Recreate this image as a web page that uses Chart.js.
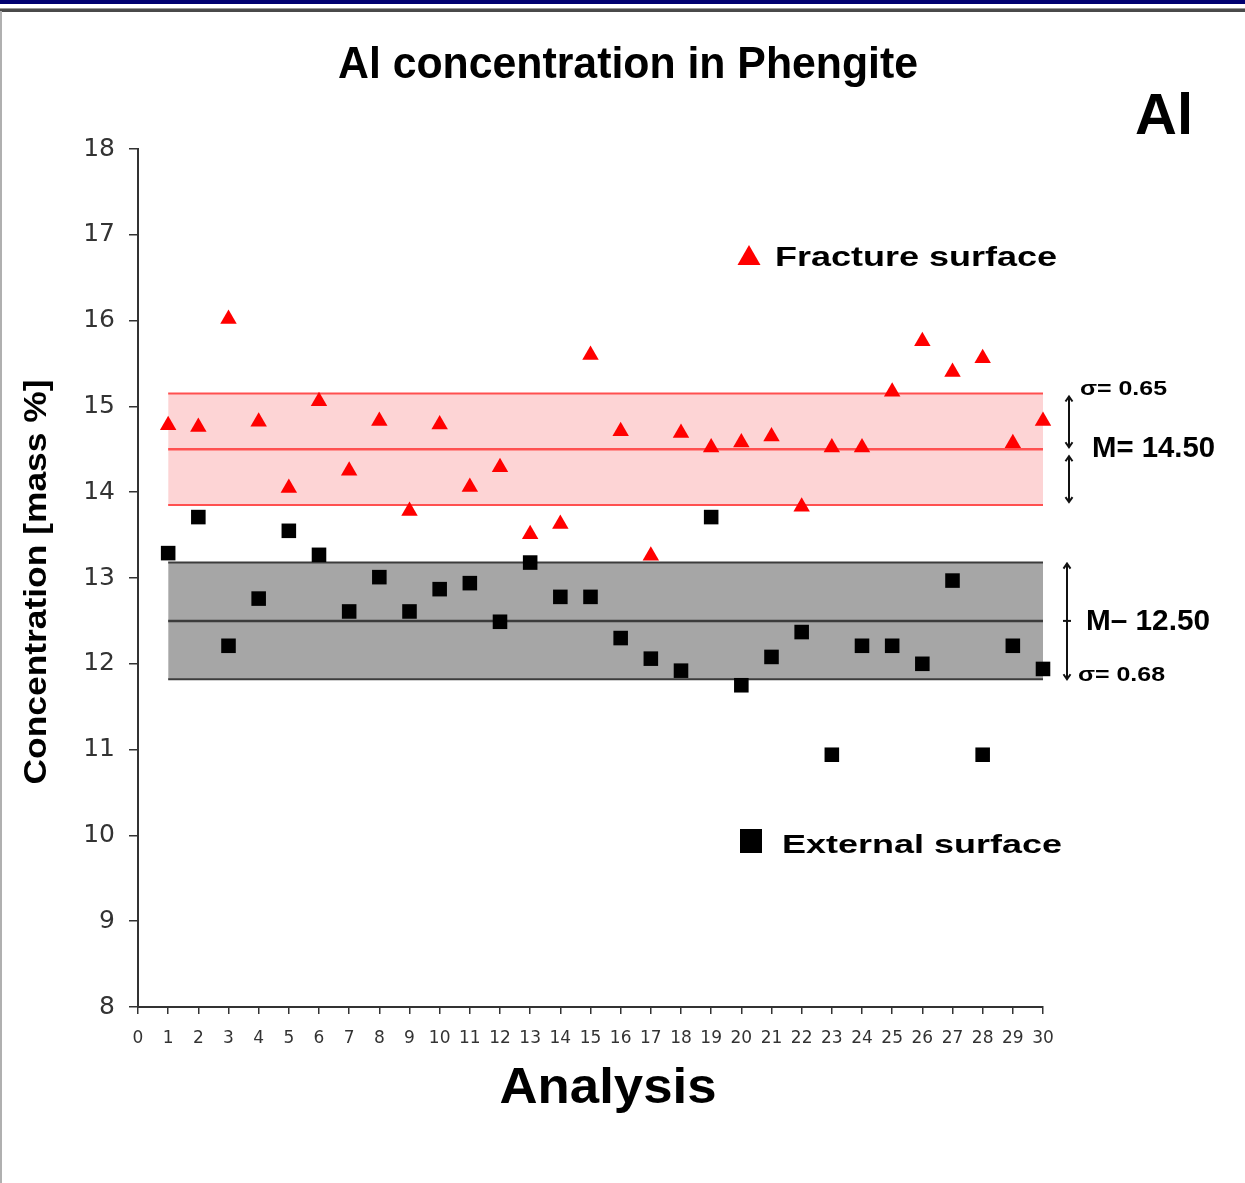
<!DOCTYPE html>
<html>
<head>
<meta charset="utf-8">
<script src="https://cdn.jsdelivr.net/npm/chart.js@4"></script>
<style>
  html, body { margin: 0; padding: 0; background: #ffffff; }
  #wrap { position: relative; width: 1245px; height: 1183px; overflow: hidden; background: #fff; }
  #topbar { position: absolute; left: 0; top: 0; width: 1245px; height: 4px; background: #000070; z-index: 2; }
  #topline { position: absolute; left: 0; top: 8px; width: 1245px; height: 3px; background: #4a4a4a; border-top: 1px solid #9a9a9a; z-index: 2; }
  #leftline { position: absolute; left: 0; top: 11px; width: 2px; height: 1172px; background: #b0b0b0; z-index: 2; }
  canvas { position: absolute; left: 0; top: 0; }
</style>
</head>
<body>
<div id="wrap">
  <div id="topbar"></div>
  <div id="topline"></div>
  <div id="leftline"></div>
  <canvas id="c" width="1245" height="1183"></canvas>
</div>
<script>
// ---- data ----
const analysis = [1,2,3,4,5,6,7,8,9,10,11,12,13,14,15,16,17,18,19,20,21,22,23,24,25,26,27,28,29,30];
const fractureSurface = [14.78,14.76,16.02,14.82,14.05,15.06,14.25,14.83,13.78,14.79,14.06,14.29,13.51,13.63,15.60,14.71,13.26,14.69,14.52,14.58,14.65,13.83,14.52,14.52,15.17,15.76,15.40,15.56,14.57,14.83];
const externalSurface = [13.29,13.71,12.21,12.76,13.55,13.27,12.61,13.01,12.61,12.87,12.94,12.49,13.18,12.78,12.78,12.30,12.06,11.92,13.71,11.75,12.08,12.37,10.94,12.21,12.21,12.00,12.97,10.94,12.21,11.94];
const fractureMean = 14.50, fractureSigma = 0.65;
const externalMean = 12.50, externalSigma = 0.68;
const xTickValues = [0,1,2,3,4,5,6,7,8,9,10,11,12,13,14,15,16,17,18,19,20,21,22,23,24,25,26,27,28,29,30];
const yTickValues = [8,9,10,11,12,13,14,15,16,17,18];
const titleText = 'Al concentration in Phengite';
const elementLabel = 'Al';
const xTitle = 'Analysis';
const yTitle = 'Concentration [mass %]';
const fractureLabel = 'Fracture surface';
const externalLabel = 'External surface';

// ---- build datasets ----
const pts = arr => arr.map((v, i) => ({x: analysis[i], y: v}));
const first = analysis[0], last = analysis[analysis.length - 1];
const hline = v => [{x: first, y: v}, {x: last, y: v}];

const RED_LINE = '#ff5050', RED_FILL = '#fdd4d5';
const GREY_LINE = '#3c3c3c', GREY_FILL = '#a6a6a6';

function band(val, color, fill, bg, w) {
  return { data: hline(val), showLine: true, pointRadius: 0, borderColor: color, borderWidth: w,
           backgroundColor: bg || 'transparent', fill: fill || false, order: 2, clip: false };
}

const datasets = [
  { label: fractureLabel, data: pts(fractureSurface), pointStyle: 'triangle', pointRadius: 9.5,
    backgroundColor: '#ff0000', borderWidth: 0, order: 0, clip: false },
  { label: externalLabel, data: pts(externalSurface), pointStyle: 'rect', pointRadius: 10.3,
    backgroundColor: '#000000', borderWidth: 0, order: 0, clip: false },
  band(fractureMean + fractureSigma, RED_LINE, '+2', RED_FILL, 2),
  band(fractureMean, RED_LINE, false, null, 2.5),
  band(fractureMean - fractureSigma, RED_LINE, false, null, 2),
  band(externalMean + externalSigma, GREY_LINE, '+2', GREY_FILL, 2),
  band(externalMean, GREY_LINE, false, null, 2.5),
  band(externalMean - externalSigma, GREY_LINE, false, null, 2),
];

function fitText(ctx, text, x, y, font, width, align, color) {
  ctx.save();
  ctx.font = font;
  ctx.fillStyle = color || '#000';
  ctx.textBaseline = 'alphabetic';
  const m = ctx.measureText(text).width;
  const sx = width / m;
  ctx.translate(x, y);
  ctx.scale(sx, 1);
  ctx.textAlign = align || 'left';
  ctx.fillText(text, 0, 0);
  ctx.restore();
}

function arrow(ctx, x, y1, y2) {
  // double-headed vertical arrow
  ctx.beginPath();
  ctx.moveTo(x, y1); ctx.lineTo(x, y2);
  const h = 5;
  ctx.moveTo(x - 3.5, y1 + h); ctx.lineTo(x, y1); ctx.lineTo(x + 3.5, y1 + h);
  ctx.moveTo(x - 3.5, y2 - h); ctx.lineTo(x, y2); ctx.lineTo(x + 3.5, y2 - h);
  ctx.stroke();
}

const decor = {
  id: 'decor',
  afterDraw(chart) {
    const ctx = chart.ctx;
    const ys = chart.scales.y;
    const F = '"Liberation Sans", Arial, sans-serif';
    // title
    fitText(ctx, titleText, 628, 78, 'bold 44px ' + F, 580, 'center');
    fitText(ctx, elementLabel, 1135, 134, 'bold 58px ' + F, 58, 'left');
    // axis titles
    fitText(ctx, xTitle, 608, 1103, 'bold 50px ' + F, 217, 'center');
    ctx.save();
    ctx.translate(46, 582);
    ctx.rotate(-Math.PI / 2);
    fitText(ctx, yTitle, 0, 0, 'bold 32px ' + F, 405, 'center');
    ctx.restore();
    // legend
    ctx.save();
    ctx.fillStyle = '#ff0000';
    ctx.beginPath();
    ctx.moveTo(749, 245); ctx.lineTo(760.5, 265); ctx.lineTo(737.5, 265); ctx.closePath();
    ctx.fill();
    ctx.fillStyle = '#000';
    ctx.fillRect(740, 829, 22, 24);
    ctx.restore();
    fitText(ctx, fractureLabel, 775, 266, 'bold 27px ' + F, 282, 'left');
    fitText(ctx, externalLabel, 782, 853, 'bold 26px ' + F, 280, 'left');
    // annotations
    const pTop = ys.getPixelForValue(fractureMean + fractureSigma);
    const pMid = ys.getPixelForValue(fractureMean);
    const pBot = ys.getPixelForValue(fractureMean - fractureSigma);
    const gTop = ys.getPixelForValue(externalMean + externalSigma);
    const gMid = ys.getPixelForValue(externalMean);
    const gBot = ys.getPixelForValue(externalMean - externalSigma);
    ctx.save();
    ctx.strokeStyle = '#111';
    ctx.lineWidth = 2;
    arrow(ctx, 1069, pTop + 3, pMid - 2);
    arrow(ctx, 1069, pMid + 7, pBot - 3);
    arrow(ctx, 1067, gTop + 1, gBot);
    ctx.beginPath(); ctx.moveTo(1063, gMid); ctx.lineTo(1071, gMid); ctx.stroke();
    ctx.restore();
    fitText(ctx, '\u03c3= ' + fractureSigma.toFixed(2), 1080, 395, 'bold 20px ' + F, 87, 'left');
    fitText(ctx, 'M= ' + fractureMean.toFixed(2), 1092, 457, 'bold 29px ' + F, 123, 'left');
    fitText(ctx, 'M\u2013 ' + externalMean.toFixed(2), 1086, 630, 'bold 29px ' + F, 124, 'left');
    fitText(ctx, '\u03c3= ' + externalSigma.toFixed(2), 1078, 681, 'bold 20px ' + F, 87, 'left');
  }
};

new Chart(document.getElementById('c'), {
  type: 'scatter',
  data: { datasets },
  options: {
    responsive: false,
    animation: false,
    events: [],
    layout: { padding: { left: 0, top: 149, right: 202, bottom: 0 } },
    plugins: {
      legend: { display: false },
      title: { display: false },
      tooltip: { enabled: false },
      filler: { drawTime: 'beforeDatasetsDraw' }
    },
    scales: {
      x: {
        type: 'linear',
        min: xTickValues[0], max: xTickValues[xTickValues.length - 1],
        afterBuildTicks: s => { s.ticks = xTickValues.map(v => ({value: v})); },
        afterFit: s => { s.height = 176; },
        ticks: { autoSkip: false, maxRotation: 0, minRotation: 0, padding: 14, color: '#333',
                 font: { family: '"DejaVu Sans", sans-serif', size: 17 } },
        grid: { drawOnChartArea: false, drawTicks: true, tickLength: 7, color: '#333', lineWidth: 1.5 },
        border: { display: true, color: '#333', width: 2 }
      },
      y: {
        type: 'linear',
        min: yTickValues[0], max: yTickValues[yTickValues.length - 1],
        afterBuildTicks: s => { s.ticks = yTickValues.map(v => ({value: v})); },
        afterFit: s => { s.width = 138; },
        ticks: { padding: 14, color: '#333',
                 font: { family: '"DejaVu Sans", sans-serif', size: 25 } },
        grid: { drawOnChartArea: false, drawTicks: true, tickLength: 9, color: '#333', lineWidth: 1.5 },
        border: { display: true, color: '#333', width: 2 }
      }
    }
  },
  plugins: [decor]
});
</script>
</body>
</html>
